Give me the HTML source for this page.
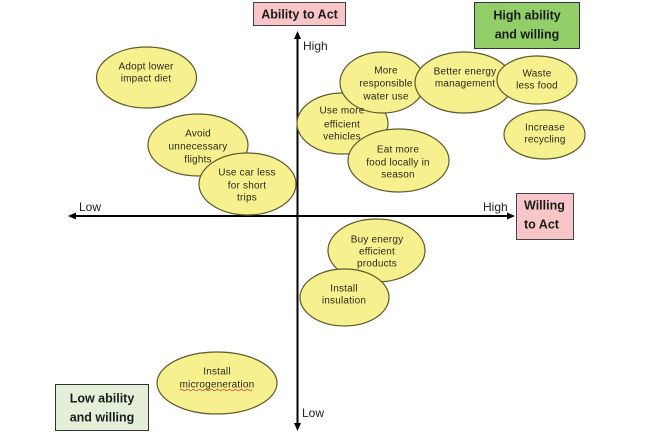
<!DOCTYPE html>
<html><head><meta charset="utf-8"><style>
html,body{margin:0;padding:0;background:#fff;}
svg{display:block;}
text{font-family:"Liberation Sans",Arial,sans-serif;}
.e{fill:#f6f08e;stroke:#5e5a2c;stroke-width:1.2;}
.t{font-size:10px;fill:#2a2a1e;text-anchor:middle;letter-spacing:0.2px;}
.b{font-size:12.5px;font-weight:bold;fill:#1c1c1c;}
.a{font-size:12px;fill:#222;}
</style></head><body>
<svg width="648" height="432" viewBox="0 0 648 432" xmlns="http://www.w3.org/2000/svg">
<!-- axes -->
<line x1="297.5" y1="37" x2="297.5" y2="425" stroke="#000" stroke-width="2"/>
<polygon points="297.5,31 294,39 301,39" fill="#000"/>
<polygon points="297.5,431 294,423 301,423" fill="#000"/>
<line x1="75" y1="216" x2="509" y2="216" stroke="#000" stroke-width="2"/>
<polygon points="68,216 76,212.5 76,219.5" fill="#000"/>
<polygon points="515,216 507,212.5 507,219.5" fill="#000"/>

<!-- axis labels -->
<text class="a" x="303" y="50">High</text>
<text class="a" x="79" y="211">Low</text>
<text class="a" x="483" y="211">High</text>
<text class="a" x="302" y="417">Low</text>

<!-- boxes -->
<rect x="253.5" y="2.5" width="92" height="23" fill="#f8c6c8" stroke="#444" stroke-width="1"/>
<text class="b" x="299.5" y="18.5" text-anchor="middle">Ability to Act</text>
<rect x="474.5" y="2.5" width="105" height="46" fill="#93cf68" stroke="#333" stroke-width="1"/>
<text class="b" x="527" y="19.5" text-anchor="middle">High ability</text>
<text class="b" x="527" y="38.5" text-anchor="middle">and willing</text>
<rect x="516.5" y="193.5" width="57" height="46" fill="#f8c6c8" stroke="#444" stroke-width="1"/>
<text class="b" x="524" y="209.5">Willing</text>
<text class="b" x="524" y="228.5">to Act</text>
<rect x="55.5" y="384.5" width="93" height="46" fill="#e3efd8" stroke="#333" stroke-width="1"/>
<text class="b" x="102" y="402.5" text-anchor="middle">Low ability</text>
<text class="b" x="102" y="421.5" text-anchor="middle">and willing</text>

<!-- ellipses -->
<ellipse class="e" cx="146.5" cy="77.5" rx="50" ry="30.5"/>
<ellipse class="e" cx="198" cy="145" rx="50" ry="31"/>
<ellipse class="e" cx="247.5" cy="184" rx="48.5" ry="31"/>
<ellipse class="e" cx="342.5" cy="123.5" rx="45.5" ry="30.5"/>
<ellipse class="e" cx="382.5" cy="82.5" rx="42.5" ry="30.5"/>
<ellipse class="e" cx="464" cy="82.5" rx="49" ry="30.5"/>
<ellipse class="e" cx="537" cy="80" rx="40" ry="24"/>
<ellipse class="e" cx="544.5" cy="134.5" rx="40.5" ry="24.5"/>
<ellipse class="e" cx="398.5" cy="160.5" rx="50.5" ry="31.5"/>
<ellipse class="e" cx="376.5" cy="250.5" rx="48.5" ry="31.5"/>
<ellipse class="e" cx="344.5" cy="297.5" rx="44.5" ry="28.5"/>
<ellipse class="e" cx="217" cy="383" rx="60" ry="31"/>

<!-- ellipse texts -->
<text class="t" x="146" y="69.5">Adopt lower</text>
<text class="t" x="146" y="81.5">impact diet</text>

<text class="t" x="198" y="136.5">Avoid</text>
<text class="t" x="198" y="149.5">unnecessary</text>
<text class="t" x="198" y="162.5">flights</text>

<text class="t" x="247" y="175.5">Use car less</text>
<text class="t" x="247" y="188.5">for short</text>
<text class="t" x="247" y="200.5">trips</text>

<text class="t" x="342" y="113.5">Use more</text>
<text class="t" x="342" y="127.5">efficient</text>
<text class="t" x="342" y="139.5">vehicles</text>

<text class="t" x="386" y="73.5">More</text>
<text class="t" x="386" y="86.5">responsible</text>
<text class="t" x="386" y="99.5">water use</text>

<text class="t" x="465" y="74.5">Better energy</text>
<text class="t" x="465" y="86.5">management</text>

<text class="t" x="537" y="76.5">Waste</text>
<text class="t" x="537" y="88.5">less food</text>

<text class="t" x="545" y="130.5">Increase</text>
<text class="t" x="545" y="142.5">recycling</text>

<text class="t" x="398" y="152.5">Eat more</text>
<text class="t" x="398" y="165.5">food locally in</text>
<text class="t" x="398" y="177.5">season</text>

<text class="t" x="377" y="242.5">Buy energy</text>
<text class="t" x="377" y="254.5">efficient</text>
<text class="t" x="377" y="266.5">products</text>

<text class="t" x="344" y="291.5">Install</text>
<text class="t" x="344" y="303.5">insulation</text>

<text class="t" x="217" y="374.5">Install</text>
<text class="t" x="217" y="387.5">microgeneration</text>
<path d="M180,390 q1.5,-1.5 3,0 t3,0 t3,0 t3,0 t3,0 t3,0 t3,0 t3,0 t3,0 t3,0 t3,0 t3,0 t3,0 t3,0 t3,0 t3,0 t3,0 t3,0 t3,0 t3,0 t3,0 t3,0 t3,0 t3,0" fill="none" stroke="#d33" stroke-width="0.8"/>
</svg>
</body></html>
